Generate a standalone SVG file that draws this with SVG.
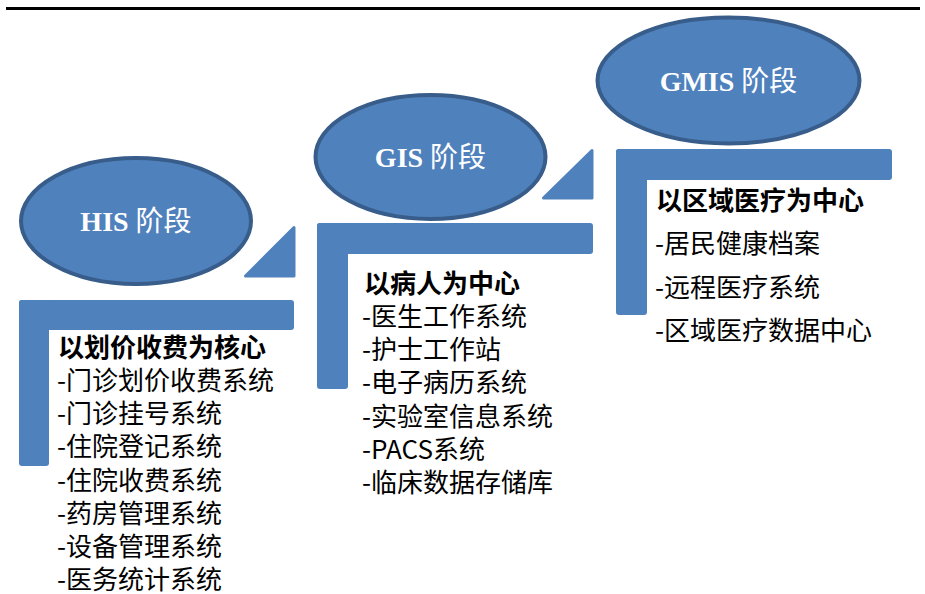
<svg xmlns="http://www.w3.org/2000/svg" width="925" height="594" viewBox="0 0 925 594">
<style>
.bar{fill:#4f81bd}
.oval{fill:#4f81bd;stroke:#385d8a;stroke-width:4}
.title{font-family:"Liberation Serif","Noto Sans CJK SC",serif;font-weight:bold;font-size:28px;fill:#ffffff;text-anchor:middle}
.cjk{font-family:"Noto Sans CJK SC",sans-serif;font-weight:normal}
.head{font-family:"Noto Sans CJK SC",sans-serif;font-weight:bold;font-size:26px;fill:#000000}
.item{font-family:"Noto Sans CJK SC",sans-serif;font-size:26px;fill:#000000}
.tri{fill:#4f81bd;stroke:#4f81bd;stroke-width:3;stroke-linejoin:round}
</style>
<line x1="6" y1="8.5" x2="920" y2="8.5" stroke="#000000" stroke-width="3"/>
<g id="connectors">
<polygon class="tri" points="294,227.5 294,276 245.5,276"/>
<polygon class="tri" points="592,150.5 592,198 543.5,198"/>
</g>
<g id="stage-his">
<rect class="bar" x="19" y="300" width="275" height="30" rx="3"/>
<rect class="bar" x="19" y="300" width="30" height="166" rx="3"/>
<ellipse class="oval" cx="136" cy="221" rx="115" ry="63"/>
<text class="title" x="136" y="231">HIS <tspan class="cjk">阶段</tspan></text>
<text class="head" x="58" y="357">以划价收费为核心</text>
<text class="item" x="57" y="390">-门诊划价收费系统</text>
<text class="item" x="57" y="423">-门诊挂号系统</text>
<text class="item" x="57" y="456">-住院登记系统</text>
<text class="item" x="57" y="490">-住院收费系统</text>
<text class="item" x="57" y="523">-药房管理系统</text>
<text class="item" x="57" y="556">-设备管理系统</text>
<text class="item" x="57" y="589">-医务统计系统</text>
</g>
<g id="stage-gis">
<rect class="bar" x="317" y="223" width="276" height="31" rx="3"/>
<rect class="bar" x="317" y="223" width="31" height="166" rx="3"/>
<ellipse class="oval" cx="430.5" cy="157" rx="115" ry="62"/>
<text class="title" x="430.5" y="167">GIS <tspan class="cjk">阶段</tspan></text>
<text class="head" x="364" y="293">以病人为中心</text>
<text class="item" x="362" y="326">-医生工作系统</text>
<text class="item" x="362" y="359">-护士工作站</text>
<text class="item" x="362" y="392">-电子病历系统</text>
<text class="item" x="362" y="426">-实验室信息系统</text>
<text class="item" x="362" y="459">-PACS系统</text>
<text class="item" x="362" y="492">-临床数据存储库</text>
</g>
<g id="stage-gmis">
<rect class="bar" x="616" y="149" width="276" height="31" rx="3"/>
<rect class="bar" x="616" y="149" width="31" height="166" rx="3"/>
<ellipse class="oval" cx="728.5" cy="80.5" rx="131" ry="63"/>
<text class="title" x="728.5" y="91">GMIS <tspan class="cjk">阶段</tspan></text>
<text class="head" x="656" y="210">以区域医疗为中心</text>
<text class="item" x="655" y="253">-居民健康档案</text>
<text class="item" x="655" y="297">-远程医疗系统</text>
<text class="item" x="655" y="340">-区域医疗数据中心</text>
</g>
</svg>
